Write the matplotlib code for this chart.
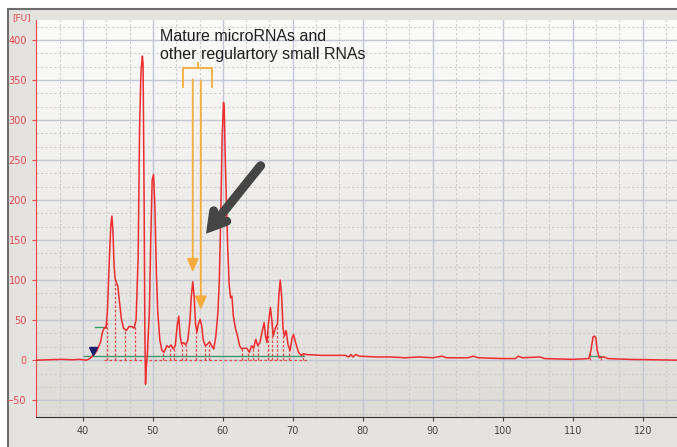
import matplotlib
matplotlib.use('Agg')
import matplotlib.pyplot as plt
from matplotlib.patches import Rectangle
from matplotlib.ticker import MultipleLocator
import numpy as np

# electropherogram trace (size in s, signal in FU)
trace_x = [33.3, 35, 37, 38.5, 39.5, 40.5, 41.0, 41.5, 42.0, 42.5, 42.8, 43.1, 43.3, 43.5,
           43.8, 44.0, 44.15, 44.3, 44.45, 44.6, 44.8, 45.0, 45.2, 45.5, 45.8, 46.2, 46.6,
           47.0, 47.3, 47.6, 47.9, 48.1, 48.3, 48.5, 48.6, 48.75, 48.85, 48.95, 49.05, 49.2,
           49.5, 49.7, 49.9, 50.1, 50.3, 50.5, 50.7, 51.0, 51.3, 51.6, 52.0, 52.3, 52.6, 52.9,
           53.2, 53.5, 53.7, 53.9, 54.1, 54.4, 54.7, 55.0, 55.3, 55.5, 55.7, 55.9, 56.1, 56.3,
           56.5, 56.75, 57.0, 57.2, 57.5, 57.8, 58.1, 58.4, 58.7, 59.0, 59.3, 59.5, 59.7, 59.9,
           60.1, 60.2, 60.35, 60.5, 60.7, 60.9, 61.1, 61.3, 61.5, 61.8, 62.1, 62.4, 62.7, 63.0,
           63.4, 63.8, 64.1, 64.4, 64.7, 65.0, 65.3, 65.6, 65.9, 66.1, 66.3, 66.5, 66.8, 67.0,
           67.2, 67.5, 67.8, 68.0, 68.2, 68.4, 68.6, 68.8, 69.05, 69.3, 69.6, 69.9, 70.1, 70.4,
           70.8, 71.2, 71.5, 72, 74, 76, 77.5, 78, 78.3, 78.6, 79.0, 79.5, 82, 84, 86, 88, 90,
           91.3, 92, 95, 95.8, 96.5, 100, 101.8, 102.2, 102.8, 105.3, 106, 110, 112.3, 112.6,
           112.9, 113.1, 113.3, 113.5, 113.8, 114.5, 115, 118, 125]
trace_y = [0, 0.5, 1, 0.5, 1, 0, 2, 6, 12, 22, 35, 41, 40, 60,
           130, 170, 180, 160, 120, 102, 97, 92, 75, 52, 40, 37, 42,
           42, 40, 50, 130, 290, 360, 380, 370, 200, 40, -30, -10, 5,
           60, 150, 225, 232, 190, 110, 60, 25, 12, 10, 18, 16, 19, 14,
           18, 45, 55, 30, 20, 22, 19, 25, 50, 80, 98, 80, 45, 35,
           45, 51, 42, 25, 18, 20, 23, 18, 14, 30, 60, 100, 180, 280,
           322, 315, 250, 200, 140, 95, 78, 80, 55, 40, 30, 18, 14, 15,
           15, 10, 18, 15, 26, 18, 22, 35, 47, 30, 22, 45, 66, 50,
           30, 40, 45, 80, 100, 80, 40, 30, 37, 20, 12, 28, 32, 22,
           10, 6, 8, 7, 6, 6, 6, 4, 7, 4, 7, 5, 4, 4, 3, 4, 3,
           5, 3, 3, 5, 3, 2, 2, 5, 3, 4, 2, 1, 2, 12,
           29, 30, 28, 12, 3, 4, 2, 1, 0]

# peak boundary markers
marker_x = [43.4, 44.6, 46.0, 47.4, 51.5, 52.4, 53.0, 54.1, 54.7, 56.2, 57.4, 58.0,
            62.8, 63.6, 64.3, 65.0, 66.4, 67.0, 67.8, 68.6, 69.5, 71.4, 112.5, 114.0]

x_ticks = [40, 50, 60, 70, 80, 90, 100, 110, 120]
y_ticks = [-50, 0, 50, 100, 150, 200, 250, 300, 350, 400]

note = 'Mature microRNAs and\nother regulartory small RNAs'

W, H = 677, 447
fig = plt.figure(figsize=(W / 100, H / 100), dpi=100)
fig.patch.set_facecolor('white')
# grey instrument frame
fig.patches.append(Rectangle((8 / W, -0.05), 1.1, (H - 9) / H + 0.05, transform=fig.transFigure,
                             facecolor='#e4e3df', edgecolor='#6e6e6e', lw=1.5, zorder=-10))

ax = fig.add_axes([36 / W, 30 / H, (W - 36) / W, (417 - 20) / H])
ax.set_zorder(5)

# background gradient
grad = np.linspace(0, 1, 256).reshape(-1, 1)
cmap = matplotlib.colors.LinearSegmentedColormap.from_list('bg', ['#fcfcfb', '#dedcd7'])
ax.imshow(grad, extent=[33.3, 124.9, -71, 425], origin='upper', aspect='auto', cmap=cmap, zorder=0)
ax.set_xlim(33.3, 124.9)
ax.set_ylim(-71, 425)

ax.xaxis.set_minor_locator(MultipleLocator(10 / 3))
ax.yaxis.set_minor_locator(MultipleLocator(50 / 3))
ax.set_xticks(x_ticks)
ax.set_yticks(y_ticks)
ax.grid(which='major', color='#c3c6d6', lw=1.0, ls='-', zorder=1)
ax.grid(which='minor', color='#cccccc', lw=0.8, ls=(0, (2, 2)), zorder=1)
ax.set_axisbelow(True)

ax.tick_params(axis='y', which='major', colors='#e8474a', labelsize=7, length=3, width=0.8)
ax.tick_params(axis='x', which='major', colors='#444444', labelsize=7, length=3, width=0.8)
ax.tick_params(which='minor', length=0)
ax.spines['left'].set_color('#e8474a')
ax.spines['bottom'].set_color('#333333')
ax.spines['top'].set_visible(False)
ax.spines['right'].set_visible(False)

# baselines
ax.plot([43, 72], [0, 0], color='#e8474a', lw=0.9, ls=(0, (2, 2)), zorder=3)
ax.plot([40.1, 71.6], [5, 5], color='#3d9a6e', lw=1.0, zorder=3)
ax.plot([41.8, 43.3], [41, 41], color='#3d9a6e', lw=1.0, zorder=3)
ax.plot([112.4, 114.1], [5, 5], color='#3d9a6e', lw=1.0, zorder=3)

tx = np.array(trace_x)
ty = np.array(trace_y)
for mx in marker_x:
    ax.plot([mx, mx], [0, np.interp(mx, tx, ty)], color='#e8474a', lw=0.9,
            ls=(0, (2, 1.5)), zorder=3)

ax.plot(tx, ty, color='#ee2b2f', lw=1.1, zorder=4)
ax.plot([41.4], [12], marker='v', color='#1c1c6e', markersize=6, zorder=5)

# orange bracket and arrows
orange = '#f6ac3c'
ax.plot([54.3, 54.3, 58.4, 58.4], [341, 365, 365, 341], color=orange, lw=1.3, zorder=6)
ax.plot([56.4, 56.4], [365, 371], color=orange, lw=1.3, zorder=6)
ax.annotate('', xy=(55.7, 110), xytext=(55.7, 351),
            arrowprops=dict(arrowstyle='-|>,head_length=0.8,head_width=0.35', color=orange, lw=1.3,
                            shrinkA=0, shrinkB=0),
            zorder=6)
ax.annotate('', xy=(56.85, 63), xytext=(56.85, 349),
            arrowprops=dict(arrowstyle='-|>,head_length=0.8,head_width=0.35', color=orange, lw=1.3,
                            shrinkA=0, shrinkB=0),
            zorder=6)

# dark arrow
ax.annotate('', xy=(57.6, 158), xytext=(65.4, 243),
            arrowprops=dict(arrowstyle='->,head_length=1.0,head_width=0.6', color='#454545',
                            lw=6.5, shrinkA=0, shrinkB=0, joinstyle='miter'),
            zorder=7)

ax.text(51.0, 414, note, fontsize=11.5, color='#1e1e1e', va='top', ha='left',
        linespacing=1.3, family='Liberation Sans', zorder=8)

fig.text(12 / W, 1 - 18 / H, '[FU]', color='#e8474a', fontsize=6.5, va='center', ha='left')

fig.savefig('out.png', dpi=100)
